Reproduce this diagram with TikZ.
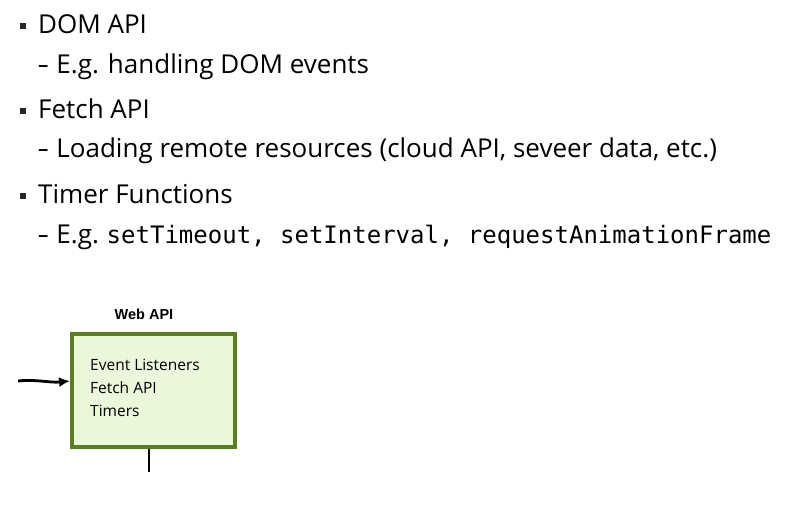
\documentclass[tikz,border=0pt]{standalone}
\usepackage{fontspec}
\setmainfont{Open Sans}
\setsansfont{Liberation Sans}
\setmonofont{DejaVu Sans Mono}
\usetikzlibrary{arrows.meta}
\definecolor{boxgreen}{HTML}{5B7F1E}
\definecolor{boxfill}{HTML}{EAF7DA}
\tikzset{
  item/.style={anchor=base west, inner sep=0pt, font=\fontsize{26}{30}\selectfont},
  bulletsq/.style={fill=black!85, minimum size=5.5pt, inner sep=0pt},
  apibox/.style={draw=boxgreen, line width=4pt, fill=boxfill, minimum width=163pt, minimum height=113pt, inner sep=0pt},
  boxtext/.style={anchor=base west, inner sep=0pt, font=\fontsize{15.5}{18}\selectfont},
  wire/.style={line width=2.8pt, black}
}
\newcommand{\subdash}{\hspace{0pt}\scalebox{0.8}[1]{–}\hspace{0.3em}}
\begin{document}
\begin{tikzpicture}[x=1pt,y=-1pt]
\useasboundingbox (0,0) rectangle (792,505);
% bullets
\node[bulletsq] (b1) at (23,26) {};
\node[item] (t1) at (38,34) {DOM API};
\node[item] (s1) at (38,74) {\subdash E.g. handling DOM events};
\node[bulletsq] (b2) at (23,111) {};
\node[item] (t2) at (38,119) {Fetch API};
\node[item] (s2) at (38,158) {\subdash Loading remote resources (cloud API, seveer data, etc.)};
\node[bulletsq] (b3) at (23,196) {};
\node[item] (t3) at (38,204) {Timer Functions};
\node[item] (s3) at (38,243) {\subdash E.g.\hspace{0.3em}\texttt{\fontsize{24}{28}\selectfont setTimeout, setInterval, requestAnimationFrame}};
% box
\node[apibox] (box) at (153.5,390.5) {};
\node[anchor=base, inner sep=0pt, font=\sffamily\bfseries\fontsize{14.5}{17}\selectfont] (title) at (144,319) {Web API};
\node[boxtext] (e1) at (90,370) {Event Listeners};
\node[boxtext] (e2) at (90,393) {Fetch API};
\node[boxtext] (e3) at (90,416.5) {Timers};
% connectors
\coordinate (src) at (18,381);
\draw[wire, -{Latex[length=11pt,width=10pt]}] (src) .. controls (35,379) and (50,383) .. ([yshift=9.5pt]box.west);
\coordinate (sink) at (149,472);
\draw[wire] ([xshift=-4.5pt]box.south) -- (sink);
\end{tikzpicture}
\end{document}
